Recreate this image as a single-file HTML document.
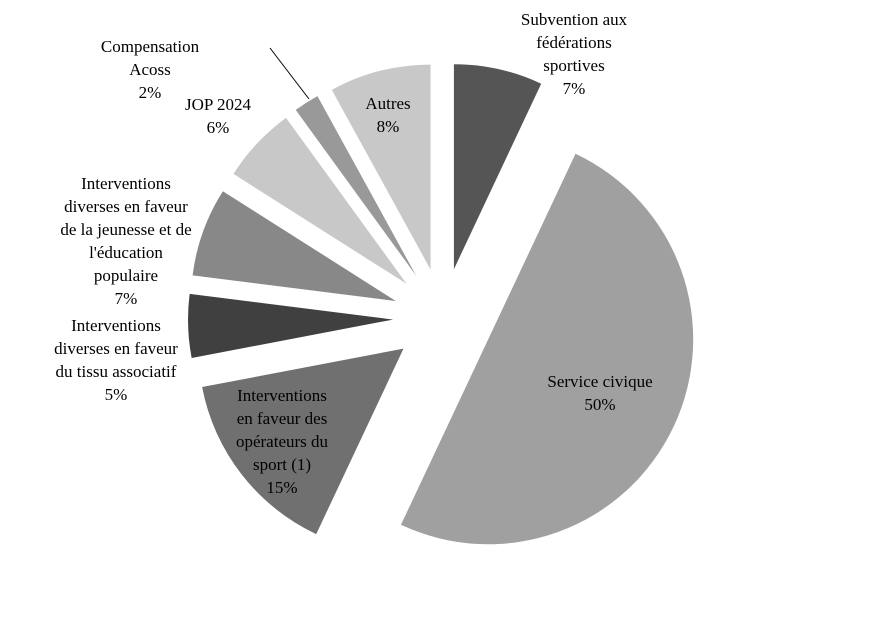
<!DOCTYPE html>
<html><head><meta charset="utf-8"><style>
body{margin:0;background:#fff}
svg{display:block}
text{font-family:"Liberation Serif",serif;font-size:17px;fill:#000}
</style></head><body>
<svg id="chart" width="886" height="636" viewBox="0 0 886 636"></svg>
<script>
const categories=["Subvention aux fédérations sportives","Service civique","Interventions en faveur des opérateurs du sport (1)","Interventions diverses en faveur du tissu associatif","Interventions diverses en faveur de la jeunesse et de l'éducation populaire","JOP 2024","Compensation Acoss","Autres"];
const values=[7,50,15,5,7,6,2,8];
const colors=["#555555","#a0a0a0","#707070","#404040","#888888","#c8c8c8","#999999","#c8c8c8"];
const labelLines=[["Subvention aux","fédérations","sportives"],["Service civique"],["Interventions","en faveur des","opérateurs du","sport (1)"],["Interventions","diverses en faveur","du tissu associatif"],["Interventions","diverses en faveur","de la jeunesse et de","l'éducation","populaire"],["JOP 2024"],["Compensation","Acoss"],["Autres"]];
const labelPos=[[574,20],[600,382],[282,396],[116,326],[126,184],[218,105],[150,47],[388,104]];
const svg=document.getElementById('chart');
const NS='http://www.w3.org/2000/svg';
const cx=443,cy=318,R=205,ex=50;
const total=values.reduce((a,b)=>a+b,0);
let a0=0;
values.forEach((v,i)=>{
  const a1=a0+v/total*2*Math.PI, am=(a0+a1)/2;
  const ox=cx+ex*Math.sin(am), oy=cy-ex*Math.cos(am);
  const x0=ox+R*Math.sin(a0),y0=oy-R*Math.cos(a0),x1=ox+R*Math.sin(a1),y1=oy-R*Math.cos(a1);
  const p=document.createElementNS(NS,'path');
  p.setAttribute('d',`M${ox},${oy}L${x0},${y0}A${R},${R} 0 ${a1-a0>Math.PI?1:0} 1 ${x1},${y1}Z`);
  p.setAttribute('fill',colors[i]);
  
  
  svg.appendChild(p);
  const t=document.createElementNS(NS,'text');
  
  
  t.setAttribute('text-anchor','middle');
  const lines=labelLines[i].concat([Math.round(v/total*100)+'%']);
  lines.forEach((s,k)=>{const ts=document.createElementNS(NS,'tspan');ts.setAttribute('x',labelPos[i][0]);ts.setAttribute('y',labelPos[i][1]+k*23+5);ts.textContent=s;t.appendChild(ts);});
  svg.appendChild(t);
  a0=a1;
});
const ln=document.createElementNS(NS,'line');
ln.setAttribute('x1',270);ln.setAttribute('y1',48);ln.setAttribute('x2',309);ln.setAttribute('y2',99);
ln.setAttribute('stroke','#000');ln.setAttribute('stroke-width','1');


svg.appendChild(ln);
</script>
</body></html>
